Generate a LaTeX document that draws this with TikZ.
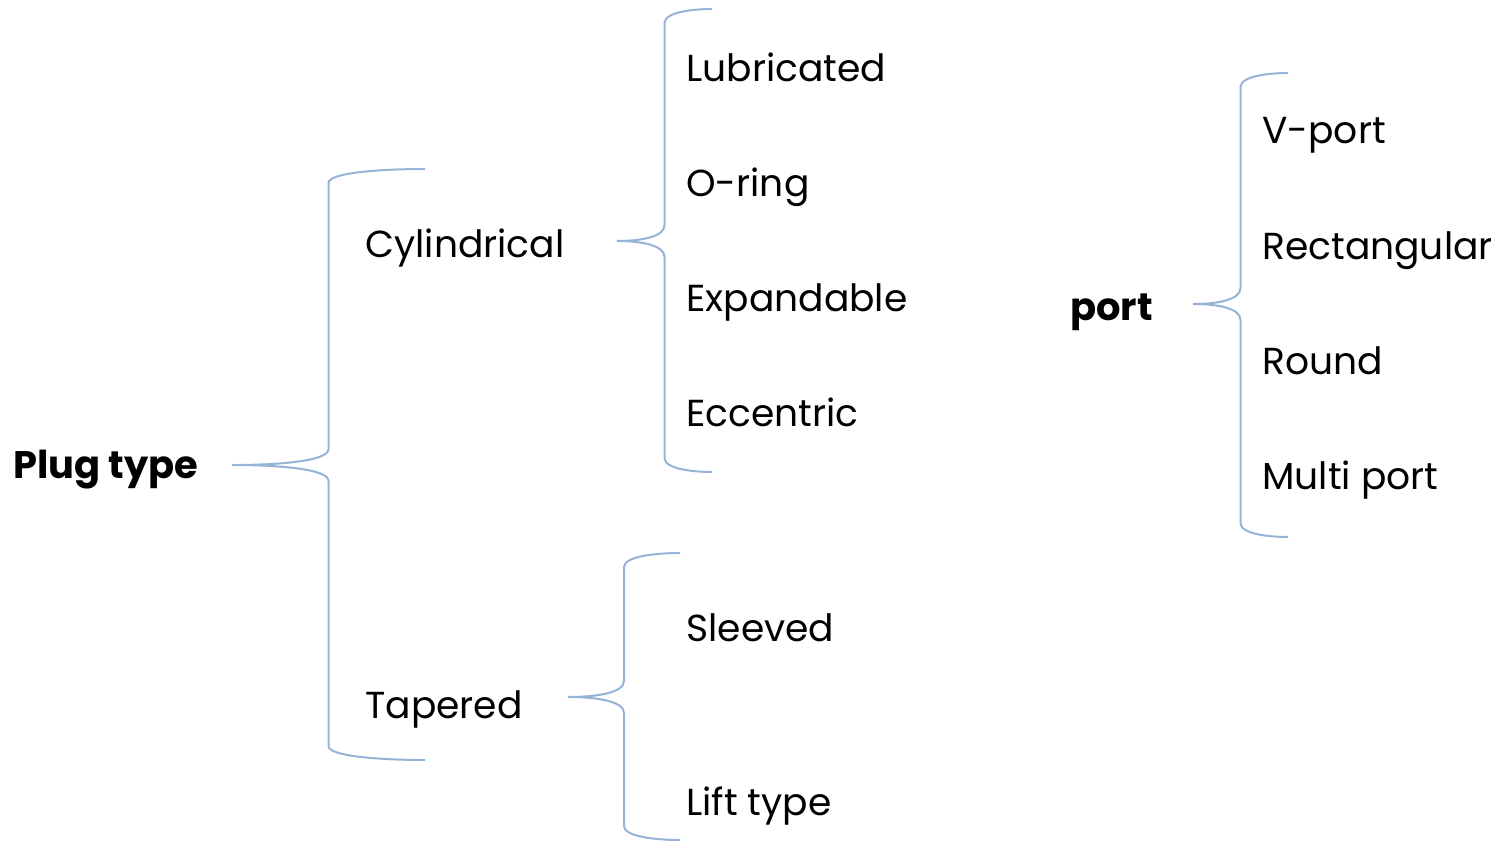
\documentclass[tikz,border=0pt]{standalone}
\usepackage{fontspec}
\setmainfont{Poppins}
\usepackage{tikz}
\usetikzlibrary{calc, positioning}

\definecolor{bracecol}{HTML}{95B3D7}

% curly bracket: tip, upper end, lower end
\newcommand{\curly}[3]{%
  \draw[brace] let \p1=(#1), \p2=(#2), \p3=(#3), \n1={0.5*(\x1+\x2)} in
    (\p2) .. controls ({\n1+0.6*(\x2-\n1)},\y2) and (\n1,\y2-1.5pt) .. (\n1,\y2-7pt)
    -- (\n1,\y1+8pt) .. controls (\n1,\y1+2pt) and ({\x1+0.5*(\n1-\x1)},\y1) .. (\p1)
    .. controls ({\x1+0.5*(\n1-\x1)},\y1) and (\n1,\y1-2pt) .. (\n1,\y1-8pt)
    -- (\n1,\y3+7pt) .. controls (\n1,\y3+1.5pt) and ({\n1+0.6*(\x3-\n1)},\y3) .. (\p3);
}

\begin{document}
\begin{tikzpicture}[x=0.5pt, y=-0.5pt,
    every node/.style={font=\fontsize{18.8}{22}\selectfont, inner sep=0pt, anchor=base west},
    head/.style={font=\fontsize{19.2}{22}\selectfont\bfseries},
    item/.style={},
    brace/.style={draw=bracecol, line width=1pt}
]
    \useasboundingbox (0,0) rectangle (1494,842);

    \node (plug) [head] at (13,478) {Plug type};
    \node (cyl) [item] at (365,257) {Cylindrical};
    \node (tap) [item] at (365,718) {Tapered};

    \node (lub) [item] at (686,81) {Lubricated};
    \node (oring) [item] at (686,196) {O-ring};
    \node (exp) [item] at (686,311) {Expandable};
    \node (ecc) [item] at (686,426) {Eccentric};

    \node (sleeve) [item] at (686,641) {Sleeved};
    \node (lift) [item] at (686,815) {Lift type};

    \node (port) [head] at (1070,320) {port};
    \node (vport) [item] at (1262,143) {V-port};
    \node (rect) [item] at (1262,259) {Rectangular};
    \node (round) [item] at (1262,374) {Round};
    \node (multi) [item] at (1262,489) {Multi port};

    \coordinate (plugtip) at (232,465);
    \coordinate (plugtop) at (425,169);
    \coordinate (plugbot) at (425,760);
    \coordinate (cyltip) at (617,241);
    \coordinate (cyltop) at (712,9);
    \coordinate (cylbot) at (712,472);
    \coordinate (taptip) at (568,697);
    \coordinate (taptop) at (680,553);
    \coordinate (tapbot) at (680,840);
    \coordinate (porttip) at (1193,304);
    \coordinate (porttop) at (1288,73);
    \coordinate (portbot) at (1288,537);

    \curly{plugtip}{plugtop}{plugbot}
    \curly{cyltip}{cyltop}{cylbot}
    \curly{taptip}{taptop}{tapbot}
    \curly{porttip}{porttop}{portbot}
\end{tikzpicture}
\end{document}
